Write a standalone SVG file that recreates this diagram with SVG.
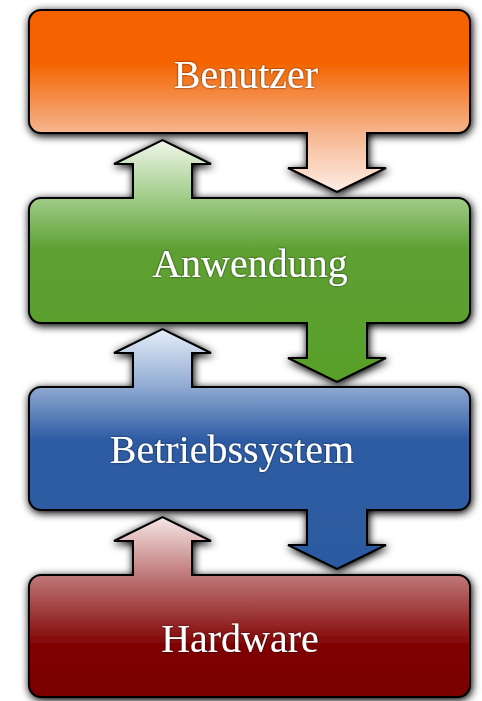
<svg xmlns="http://www.w3.org/2000/svg" width="482" height="701" viewBox="0 0 482 701">
  <defs>
    <filter id="shadow" x="-10%" y="-15%" width="120%" height="130%">
      <feGaussianBlur in="SourceAlpha" stdDeviation="4.5"/>
      <feOffset dx="1" dy="2" result="b"/>
      <feComponentTransfer><feFuncA type="linear" slope="1.1"/></feComponentTransfer>
      <feMerge><feMergeNode/><feMergeNode in="SourceGraphic"/></feMerge>
    </filter>
    <filter id="tshadow" x="-5%" y="-20%" width="110%" height="140%">
      <feGaussianBlur in="SourceAlpha" stdDeviation="0.8"/>
      <feComponentTransfer><feFuncA type="linear" slope="0.7"/></feComponentTransfer>
      <feMerge><feMergeNode/><feMergeNode in="SourceGraphic"/></feMerge>
    </filter>
    <linearGradient id="gOrange" gradientUnits="userSpaceOnUse" x1="0" y1="10" x2="0" y2="192">
      <stop offset="0" stop-color="#f46200"/>
      <stop offset="0.29" stop-color="#f46400"/>
      <stop offset="0.67" stop-color="#f6b48c"/>
      <stop offset="1" stop-color="#fdeee6"/>
    </linearGradient>
    <linearGradient id="gGreen" gradientUnits="userSpaceOnUse" x1="0" y1="140" x2="0" y2="382">
      <stop offset="0" stop-color="#f0f6ea"/>
      <stop offset="0.24" stop-color="#a0cc88"/>
      <stop offset="0.45" stop-color="#5fa034"/>
      <stop offset="1" stop-color="#58a02a"/>
    </linearGradient>
    <linearGradient id="gBlue" gradientUnits="userSpaceOnUse" x1="0" y1="329" x2="0" y2="569">
      <stop offset="0" stop-color="#e6eef8"/>
      <stop offset="0.24" stop-color="#90aad2"/>
      <stop offset="0.46" stop-color="#2f5ca4"/>
      <stop offset="1" stop-color="#2c5aa0"/>
    </linearGradient>
    <linearGradient id="gRed" gradientUnits="userSpaceOnUse" x1="0" y1="517" x2="0" y2="697">
      <stop offset="0" stop-color="#f6e6e6"/>
      <stop offset="0.32" stop-color="#c07a7a"/>
      <stop offset="0.72" stop-color="#800000"/>
      <stop offset="1" stop-color="#7a0000"/>
    </linearGradient>
  </defs>
  <style>
    .shape { stroke: #000; stroke-width: 2; stroke-linejoin: miter; filter: url(#shadow); }
    .label { font-family: "Liberation Serif", "Times New Roman", serif; font-size: 40px; fill: #fff; text-anchor: middle; filter: url(#tshadow); }
  </style>
  <rect width="482" height="701" fill="#ffffff"/>
  <g id="connectors"></g>
  <g id="benutzer">
    <path class="shape" fill="url(#gOrange)" d="M41,10 H458 A12,12 0 0 1 470,22 V121 A12,12 0 0 1 458,133 H367 V168 H386 L337,192 L288,168 H307 V133 H41 A12,12 0 0 1 29,121 V22 A12,12 0 0 1 41,10 Z"/>
    <text class="label" x="246" y="88">Benutzer</text>
  </g>
  <g id="anwendung">
    <path class="shape" fill="url(#gGreen)" d="M41,198 H133 V164 H114 L162.5,140 L211,164 H192 V198 H458 A12,12 0 0 1 470,210 V311 A12,12 0 0 1 458,323 H367 V358 H386 L337,382 L288,358 H307 V323 H41 A12,12 0 0 1 29,311 V210 A12,12 0 0 1 41,198 Z"/>
    <text class="label" x="250" y="277">Anwendung</text>
  </g>
  <g id="betriebssystem">
    <path class="shape" fill="url(#gBlue)" d="M41,387 H133 V353 H114 L162.5,329 L211,353 H192 V387 H458 A12,12 0 0 1 470,399 V498 A12,12 0 0 1 458,510 H367 V545 H386 L337,569 L288,545 H307 V510 H41 A12,12 0 0 1 29,498 V399 A12,12 0 0 1 41,387 Z"/>
    <text class="label" x="232" y="463">Betriebssystem</text>
  </g>
  <g id="hardware">
    <path class="shape" fill="url(#gRed)" d="M41,575 H133 V541 H114 L162.5,517 L211,541 H192 V575 H458 A12,12 0 0 1 470,587 V685 A12,12 0 0 1 458,697 H41 A12,12 0 0 1 29,685 V587 A12,12 0 0 1 41,575 Z"/>
    <text class="label" x="240" y="652">Hardware</text>
  </g>
</svg>
